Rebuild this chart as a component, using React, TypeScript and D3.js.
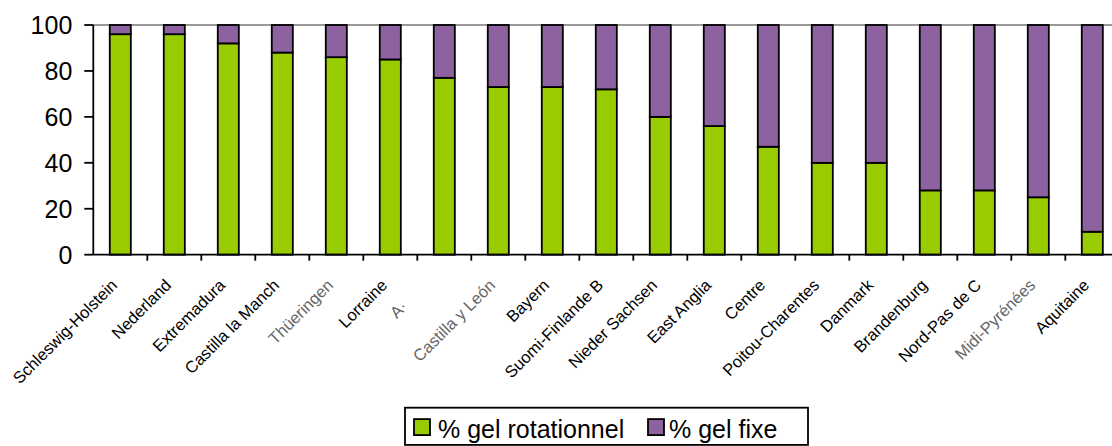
import React from "react";
import * as d3 from "d3";

const categories = [
  "Schleswig-Holstein", "Nederland", "Extremadura", "Castilla la Manch", "Thüeringen",
  "Lorraine", "A·", "Castilla y León", "Bayern", "Suomi-Finlande B", "Nieder Sachsen",
  "East Anglia", "Centre", "Poitou-Charentes", "Danmark", "Brandenburg", "Nord-Pas de C",
  "Midi-Pyrénées", "Aquitaine",
];
const gelRotationnel = [96, 96, 92, 88, 86, 85, 77, 73, 73, 72, 60, 56, 47, 40, 40, 28, 28, 25, 10];
const gelFixe = gelRotationnel.map((v) => 100 - v);
const yTicks = [0, 20, 40, 60, 80, 100];
const seriesNames = ["% gel rotationnel", "% gel fixe"];
const grayLabels = ["Thüeringen", "Castilla y León", "Midi-Pyrénées", "A·"];

const GREEN = "#99CC00";
const PURPLE = "#8E62A0";
const FONT = "'Liberation Sans', Arial, sans-serif";

export default function App() {
  const W = 1112, H = 446;
  const x0 = 93.3, step = 54;
  const y0 = 254.7, yTop = 25;
  const x = d3.scaleBand<string>().domain(categories).range([x0, x0 + step * categories.length]).paddingInner(0.61).paddingOuter(0.305);
  const y = d3.scaleLinear().domain([0, 100]).range([y0, yTop]);
  const stackData = categories.map((c, i) => ({ cat: c, rot: gelRotationnel[i], fixe: gelFixe[i] }));
  const stack = d3.stack<any>().keys(["rot", "fixe"])(stackData);
  const colors = [GREEN, PURPLE];
  const bw = x.bandwidth();
  const legendX = [414, 648];
  const legendTextDx = [24, 21];

  return (
    <svg width={W} height={H} style={{ position: "absolute", left: 0, top: 0, background: "#fff" }} fontFamily={FONT}>
      <rect x={0} y={0} width={W} height={H} fill="#fff" />
      <line x1={x0} x2={W} y1={y(100)} y2={y(100)} stroke="#999" strokeWidth={2} />
      {stack.map((s, si) => (
        <g key={si}>
          {s.map((d, i) => (
            <rect key={i} x={x(categories[i])!} width={bw} y={y(d[1])} height={y(d[0]) - y(d[1])}
              fill={colors[si]} stroke="#000" strokeWidth={1.8} />
          ))}
        </g>
      ))}
      <line x1={x0} x2={x0} y1={y(100)} y2={y(0)} stroke="#000" strokeWidth={1.8} />
      {yTicks.map((t) => (
        <g key={t}>
          <line x1={x0 - 9} x2={x0} y1={y(t)} y2={y(t)} stroke="#000" strokeWidth={1.8} />
          <text x={x0 - 21} y={y(t)} dy="0.36em" textAnchor="end" fontSize={25} fill="#000">{t}</text>
        </g>
      ))}
      <line x1={x0} x2={W} y1={y0} y2={y0} stroke="#000" strokeWidth={1.8} />
      {categories.map((c, i) => (
        <line key={c} x1={x0 + step * (i + 1)} x2={x0 + step * (i + 1)} y1={y0} y2={y0 + 6} stroke="#000" strokeWidth={1.8} />
      ))}
      {categories.map((c) => {
        const cx = x(c)! + bw / 2;
        const isA = c === "A·";
        const tx = isA ? cx - 36 : cx - 2;
        const ty = isA ? y0 + 53 : y0 + 31.5;
        return (
          <text key={c} transform={`translate(${tx},${ty}) rotate(-45)`} textAnchor="end" fontSize={16.5}
            fill={grayLabels.includes(c) ? "#666" : "#000"}>{c}</text>
        );
      })}
      <rect x={405} y={407.7} width={403} height={37.2} fill="#fff" stroke="#000" strokeWidth={1.8} />
      {seriesNames.map((n, i) => (
        <g key={n}>
          <rect x={legendX[i]} y={419.1} width={16} height={16} fill={colors[i]} stroke="#000" strokeWidth={1.8} />
          <text x={legendX[i] + legendTextDx[i]} y={438} fontSize={25} fill="#000">{n}</text>
        </g>
      ))}
    </svg>
  );
}
